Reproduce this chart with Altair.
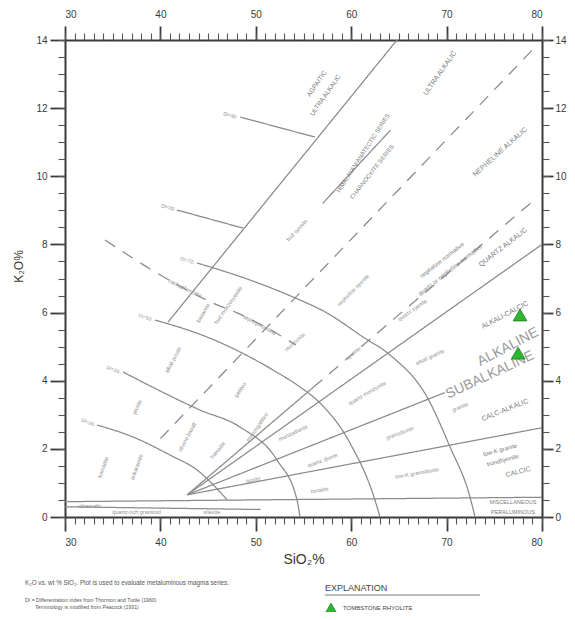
import altair as alt
import pandas as pd

# ---------------- axis ticks ----------------
X_MAJOR = [30, 40, 50, 60, 70, 80]
X_MINOR = list(range(30, 81))
Y_MAJOR = [0, 2, 4, 6, 8, 10, 12, 14]
Y_MINOR = [v / 2 for v in range(0, 29)]

# ---------------- boundary lines (SiO2 %, K2O %) ----------------
L1_X = [40.8, 64.8]
L1_Y = [5.72, 14.0]
R1_X = [42.8, 80.0]
R1_Y = [0.65, 2.62]
R2_X = [42.8, 69.8]
R2_Y = [0.65, 3.65]
R3_X = [42.8, 80.0]
R3_Y = [0.65, 8.0]
R4S_X = [42.8, 56.0]
R4S_Y = [0.65, 3.8]
R4D_X = [56.0, 79.3]
R4D_Y = [3.8, 9.33]
D1_X = [40.0, 79.3]
D1_Y = [2.3, 13.8]
SER_X = [57.0, 64.1]
SER_Y = [9.2, 11.35]
H1_X = [30.0, 80.0]
H1_Y = [0.45, 0.58]
H2_X = [30.0, 50.5]
H2_Y = [0.30, 0.22]
C1_X = [48.34, 56.2]
C1_Y = [11.74, 11.15]
C2_X = [41.74, 48.66]
C2_Y = [9.01, 8.48]
C3_X = [43.84, 49.39, 53.90, 57.46, 61.24, 64.07, 67.95, 70.36, 72.45, 72.98]
C3_Y = [7.455, 6.956, 6.457, 5.988, 5.283, 4.755, 3.522, 2.055, 0.587, 0.0]
C4_X = [39.43, 44.88, 51.80, 54.63, 56.73, 59.87, 62.49, 63.02]
C4_Y = [5.782, 5.283, 4.315, 3.816, 3.346, 2.172, 0.499, 0.0]
C5_X = [36.08, 44.15, 48.34, 52.22, 54.32, 54.63]
C5_Y = [4.256, 3.141, 2.642, 1.673, 0.499, 0.0]
C6_X = [33.35, 37.13, 41.0, 43.84, 47.0]
C6_Y = [2.70, 2.348, 1.82, 1.38, 0.5]
UD_X = [34.19, 39.64, 45.51, 48.03, 52.85, 54.2]
UD_Y = [8.13, 7.16, 6.28, 5.99, 5.28, 5.05]

LINES = [
    ("L1", L1_X, L1_Y, "solid"), ("R1", R1_X, R1_Y, "solid"),
    ("R2", R2_X, R2_Y, "solid"), ("R3", R3_X, R3_Y, "solid"),
    ("R4S", R4S_X, R4S_Y, "solid"), ("R4D", R4D_X, R4D_Y, "dash"),
    ("D1", D1_X, D1_Y, "dash"), ("SER", SER_X, SER_Y, "solid"),
    ("H1", H1_X, H1_Y, "solid"), ("H2", H2_X, H2_Y, "solid"),
    ("C1", C1_X, C1_Y, "solid"), ("C2", C2_X, C2_Y, "solid"),
    ("C3", C3_X, C3_Y, "solid"), ("C4", C4_X, C4_Y, "solid"),
    ("C5", C5_X, C5_Y, "solid"), ("C6", C6_X, C6_Y, "solid"),
    ("UD", UD_X, UD_Y, "dash"),
]

# ---------------- samples ----------------
SAMPLE_SIO2 = [77.7, 77.5]
SAMPLE_K2O = [5.93, 4.81]

# ---------------- field labels ----------------
CAT_TEXT = ["AGPAITIC", "ULTRA ALKALIC", "ULTRA ALKALIC", "HIMALAYAN/ANATECTIC SERIES",
            "CHARNOCKITE SERIES", "NEPHELINE ALKALIC", "nepheline normative",
            "quartz or nepheline normative", "QUARTZ ALKALIC", "ALKALI-CALCIC",
            "CALC-ALKALIC", "low-K granite", "trondhjemite", "CALCIC",
            "MISCELLANEOUS", "PERALUMINOUS"]
CAT_X = [56.4, 57.3, 69.31, 61.24, 62.18, 75.6, 69.52, 70.36, 75.91, 76.12,
         76.12, 75.6, 75.9, 77.5, 76.96, 76.96]
CAT_Y = [12.72, 12.38, 13.03, 10.68, 10.13, 10.71, 7.54, 7.25, 7.92, 5.93,
         3.14, 1.97, 1.67, 1.32, 0.44, 0.15]
CAT_ANGLE = [305, 305, 305, 303, 308, 318, 322, 322, 322, 332,
             338, 345, 345, 345, 0, 0]
CAT_SIZE = [6.5, 6.5, 7, 6, 6, 7, 6, 6, 7, 7, 7, 6, 6, 7, 5.5, 5.5]

BIG_TEXT = ["ALKALINE", "SUBALKALINE"]
BIG_X = [76.44, 74.55]
BIG_Y = [4.99, 4.17]
BIG_ANGLE = [332, 335]

ROCK_TEXT = ["alkali granite", "granite", "granodiorite", "low-K granodiorite",
             "tonalite", "quartz diorite", "quartz monzonite", "diorite",
             "monzodiorite", "quartz syenite", "syenite", "nepheline syenite",
             "foid syenite", "foid monzosyenite", "monzonite", "trachyphonolite",
             "tephriphonolite", "komatiite", "picrite", "alkali picrite",
             "olivine basalt", "basanite", "gabbro", "monzogabbro", "hawaiite",
             "ankaramite", "ultramafic", "quartz-rich granitoid", "silexite"]
ROCK_X = [68.26, 71.4, 65.1, 66.9, 56.7, 57.0, 61.66, 49.7, 53.9, 66.4, 60.2,
          60.2, 54.3, 47.1, 54.1, 42.58, 50.44, 34.0, 37.55, 41.32, 42.79,
          44.47, 48.34, 50.13, 46.0, 37.5, 32.6, 37.5, 45.4]
ROCK_Y = [4.70, 3.23, 2.47, 1.29, 0.79, 1.67, 3.64, 1.09, 2.47, 6.08, 4.81,
          6.66, 8.42, 6.22, 5.14, 6.72, 5.64, 1.47, 3.23, 4.61, 2.35, 5.99,
          3.73, 2.64, 1.97, 1.47, 0.32, 0.14, 0.15]
ROCK_ANGLE = [335, 338, 340, 350, 350, 340, 330, 345, 335, 325, 320, 315, 313,
              305, 318, 26, 28, 290, 295, 298, 298, 300, 305, 305, 310, 290, 0,
              0, 0]

DI_TEXT = ["DI=90", "DI=80", "DI=70", "DI=50", "DI=35", "DI=20"]
DI_X = [47.3, 40.8, 42.79, 38.39, 35.03, 32.41]
DI_Y = [11.8, 9.1, 7.54, 5.87, 4.34, 2.79]
DI_ANGLE = [15, 15, 17, 18, 22, 22]

# ---------------- build tables ----------------
rows = []
for name, xs_, ys_, sty in LINES:
    for i, (a, b) in enumerate(zip(xs_, ys_)):
        rows.append({"id": name, "ord": i, "x": a, "y": b, "sty": sty})
lines_df = pd.DataFrame(rows)

lab_rows = []
for t, a, b, ang, s in zip(CAT_TEXT, CAT_X, CAT_Y, CAT_ANGLE, CAT_SIZE):
    lab_rows.append({"t": t, "x": a, "y": b, "ang": ang, "fs": s, "col": "#7a7a7a"})
for t, a, b, ang in zip(BIG_TEXT, BIG_X, BIG_Y, BIG_ANGLE):
    lab_rows.append({"t": t, "x": a, "y": b, "ang": ang, "fs": 14, "col": "#9a9a9a"})
for t, a, b, ang in zip(ROCK_TEXT, ROCK_X, ROCK_Y, ROCK_ANGLE):
    lab_rows.append({"t": t, "x": a, "y": b, "ang": ang, "fs": 5.5, "col": "#8e8e8e"})
for t, a, b, ang in zip(DI_TEXT, DI_X, DI_Y, DI_ANGLE):
    lab_rows.append({"t": t, "x": a, "y": b, "ang": ang, "fs": 5, "col": "#8e8e8e"})
lab_df = pd.DataFrame(lab_rows)

samples_df = pd.DataFrame({"x": SAMPLE_SIO2, "y": SAMPLE_K2O})
ext_df = pd.DataFrame({"x": [30, 80], "y": [0, 14]})
one = pd.DataFrame({"a": [0]})

# ---------------- scales / axes ----------------
XS = alt.Scale(domain=[30, 80], nice=False, zero=False)
YS = alt.Scale(domain=[0, 14], nice=False, zero=False)
AXC = "#3a3a3a"
FONT = "Liberation Sans"


def major(orient, values, tick, pad, title=None, **kw):
    return alt.Axis(orient=orient, values=values, tickSize=tick, tickWidth=1.8,
                    tickColor=AXC, domainColor=AXC, domainWidth=2, grid=False,
                    labelColor=AXC, labelFont=FONT, labelFontSize=10,
                    labelPadding=pad, title=title, **kw)


def minor(orient, values):
    return alt.Axis(orient=orient, values=values, tickSize=7, tickWidth=1.1,
                    tickColor="#555555", domain=False, labels=False, grid=False,
                    title=None)


lines = alt.Chart(lines_df).mark_line(color="#8a8a8a", strokeWidth=1.25,
                                      interpolate="monotone").encode(
    x=alt.X("x:Q", scale=XS, axis=major("bottom", X_MAJOR, 14, 6, "SiO₂%",
                                          titleFont=FONT, titleFontSize=14,
                                          titleFontWeight="normal", titleColor=AXC,
                                          titlePadding=5)),
    y=alt.Y("y:Q", scale=YS, axis=major("left", Y_MAJOR, 15, 3, "K₂O%",
                                          titleFont=FONT, titleFontSize=12,
                                          titleFontWeight="normal", titleColor=AXC,
                                          titleX=-47, titleY=226, titleAngle=270,
                                          titleAlign="center",
                                          titleBaseline="middle")),
    detail="id:N",
    order="ord:Q",
    strokeDash=alt.StrokeDash("sty:N", scale=alt.Scale(domain=["solid", "dash"],
                                                        range=[[1, 0], [12, 9]]),
                              legend=None),
)

minor_bl = alt.Chart(ext_df).mark_point(opacity=0).encode(
    x=alt.X("x:Q", scale=XS, axis=minor("bottom", X_MINOR)),
    y=alt.Y("y:Q", scale=YS, axis=minor("left", Y_MINOR)),
)
major_tr = alt.Chart(ext_df).mark_point(opacity=0).encode(
    x=alt.X("x:Q", scale=XS, axis=major("top", X_MAJOR, 14, 7)),
    y=alt.Y("y:Q", scale=YS, axis=major("right", Y_MAJOR, 11, 2)),
)
minor_tr = alt.Chart(ext_df).mark_point(opacity=0).encode(
    x=alt.X("x:Q", scale=XS, axis=minor("top", X_MINOR)),
    y=alt.Y("y:Q", scale=YS, axis=minor("right", Y_MINOR)),
)

labels = alt.Chart(lab_df).mark_text(font=FONT, align="center", baseline="middle").encode(
    x=alt.X("x:Q", scale=XS, axis=None),
    y=alt.Y("y:Q", scale=YS, axis=None),
    text="t:N",
    angle=alt.Angle("ang:Q", scale=None),
    size=alt.Size("fs:Q", scale=None),
    color=alt.Color("col:N", scale=None),
)

points = alt.Chart(samples_df).mark_point(shape="triangle-up", filled=True,
                                          fill="#2fb52f", stroke="#1c7c1c",
                                          strokeWidth=0.8, size=190, opacity=1).encode(
    x=alt.X("x:Q", scale=XS, axis=None),
    y=alt.Y("y:Q", scale=YS, axis=None),
)

# ---------------- notes and explanation (below the plot) ----------------
def note(txt, px, py, fs, col="#555555"):
    return alt.Chart(one).mark_text(font=FONT, align="left", baseline="middle",
                                    fontSize=fs, color=col).encode(
        x=alt.value(px), y=alt.value(py), text=alt.value(txt))


notes = [
    note("K₂O vs. wt % SiO₂. Plot is used to evaluate metaluminous magma series.", -40, 543, 6.3),
    note("DI = Differentiation index from Thornton and Tuttle (1960)", -40, 560, 5.2),
    note("Terminology is modified from Peacock (1931)", -30, 567, 5.2),
    note("EXPLANATION", 260, 548, 9, "#444444"),
    note("TOMBSTONE RHYOLITE", 278, 568, 6, "#444444"),
]
underline = alt.Chart(one).mark_rule(color="#777777", strokeWidth=1).encode(
    x=alt.value(260), x2=alt.value(415), y=alt.value(555))
legend_tri = alt.Chart(one).mark_point(shape="triangle-up", filled=True,
                                       fill="#2fb52f", stroke="#1c7c1c",
                                       strokeWidth=0.8, size=120, opacity=1).encode(
    x=alt.value(266), y=alt.value(568))

chart = alt.layer(lines, minor_bl, major_tr, minor_tr, labels, points,
                  underline, legend_tri, *notes).resolve_axis(
    x="independent", y="independent"
).properties(
    width=477, height=477,
    autosize=alt.AutoSizeParams(type="none"),
    padding={"left": 57, "top": 32, "right": 25, "bottom": 95},
    background="white",
).configure_view(strokeWidth=0)

chart.save("out.html", embed_options={"renderer": "svg", "actions": False})
